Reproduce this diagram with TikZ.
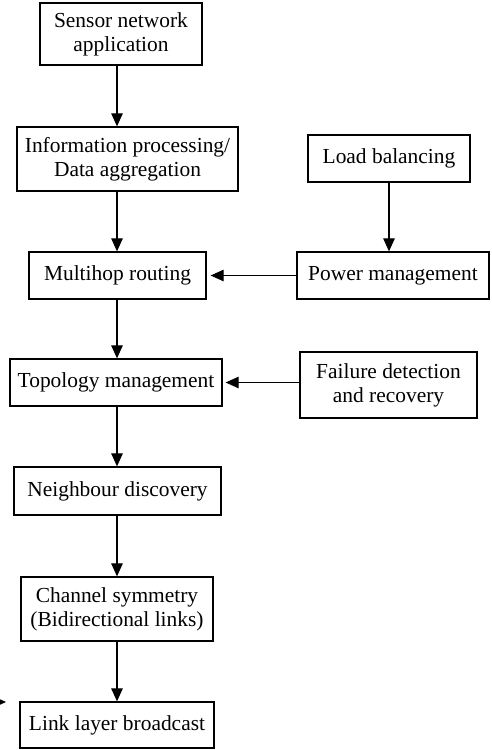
\documentclass[tikz,border=0pt]{standalone}
\usepackage{fontspec}
\setmainfont{Liberation Serif}
\usetikzlibrary{arrows.meta}
\begin{document}
\begin{tikzpicture}[x=1bp,y=-1bp,
  box/.style={draw, line width=1.3bp, inner sep=0pt, align=center,
    font=\fontsize{21.5}{24}\selectfont},
  arr/.style={line width=1.2bp, -{Triangle[length=13bp,width=11.5bp]}}]
\useasboundingbox (0,0) rectangle (492,750);
\node[box, minimum width=162bp, minimum height=62bp] (sensor) at (121,34) {Sensor network\\application};
\node[box, minimum width=221bp, minimum height=64bp] (info) at (127.5,159) {Information processing/\\Data aggregation};
\node[box, minimum width=162bp, minimum height=47bp] (load) at (389,158.5) {Load balancing};
\node[box, minimum width=177bp, minimum height=47bp] (multi) at (117.5,275.5) {Multihop routing};
\node[box, minimum width=192bp, minimum height=47bp] (power) at (393,275.5) {Power management};
\node[box, minimum width=212bp, minimum height=47bp] (topo) at (116,382.5) {Topology management};
\node[box, minimum width=177bp, minimum height=66bp] (fail) at (388.5,385) {Failure detection\\and recovery};
\node[box, minimum width=207bp, minimum height=48bp] (neigh) at (117.5,491) {Neighbour discovery};
\node[box, minimum width=192bp, minimum height=64bp] (chan) at (117,609) {Channel symmetry\\(Bidirectional links)};
\node[box, minimum width=194bp, minimum height=46bp] (link) at (117,725) {Link layer broadcast};
\coordinate (spine) at (117,0);
\coordinate (lb) at (389,0);
\coordinate (stray) at (-20,702);
\coordinate (strayend) at (6,702);
\draw[arr] (sensor.south -| spine) -- (info.north -| spine);
\draw[arr] (info.south -| spine) -- (multi.north -| spine);
\draw[arr] (multi.south -| spine) -- (topo.north -| spine);
\draw[arr] (topo.south -| spine) -- (neigh.north -| spine);
\draw[arr] (neigh.south -| spine) -- (chan.north -| spine);
\draw[arr] (chan.south -| spine) -- (link.north -| spine);
\draw[arr] (load.south -| lb) -- (power.north -| lb);
\draw[arr] (power.west) -- ([xshift=4bp]multi.east);
\draw[arr] (fail.west |- topo.east) -- ([xshift=3bp]topo.east);
\draw[arr] (stray) -- (strayend);
\end{tikzpicture}
\end{document}
